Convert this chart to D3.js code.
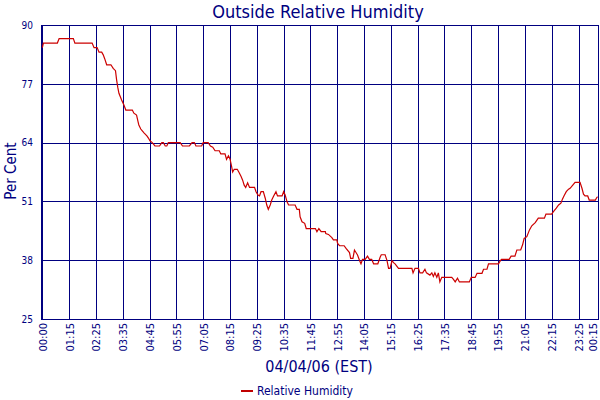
<!DOCTYPE html>
<html>
<head>
<meta charset="utf-8">
<script src="https://cdn.jsdelivr.net/npm/d3@7"></script>
<style>
  body { margin: 0; background: #fff; }
  svg text { font-family: "DejaVu Sans Condensed", "DejaVu Sans", sans-serif; font-stretch: condensed; fill: #000080; }
</style>
</head>
<body>
<div id="chart"></div>
<script>
// readings, 04/04/06 (EST); hours past 24 are the next day
var times = ["00:00","00:03","00:42","00:47","01:26","01:30","02:15","02:20","02:28","02:33",
  "02:40","02:44","02:48","02:53","03:04","03:10","03:16","03:19","03:22","03:25",
  "03:32","03:38","03:43","04:00","04:04","04:11","04:15","04:17","04:22","04:26",
  "04:31","04:38","04:42","04:46","04:52","04:59","05:11","05:17","05:21","05:26",
  "05:30","05:34","06:05","06:11","06:29","06:36","06:42","06:46","07:01","07:05",
  "07:18","07:24","07:30","07:36","07:47","07:51","08:02","08:06","08:11","08:15",
  "08:19","08:22","08:26","08:34","08:39","08:44","08:48","08:52","08:56","09:01",
  "09:06","09:19","09:23","09:28","09:32","09:36","09:42","09:47","09:51","09:55",
  "10:00","10:04","10:09","10:15","10:19","10:31","10:35","10:39","10:44","10:48",
  "11:05","11:10","11:16","11:18","11:23","11:30","11:34","11:58","12:02","12:07",
  "12:13","12:24","12:25","12:32","12:41","12:45","12:54","12:56","13:01","13:13",
  "13:18","13:27","13:30","13:36","13:40","13:48","13:53","13:57","14:01","14:08",
  "14:14","14:19","14:25","14:30","14:41","14:47","14:50","15:00","15:05","15:09",
  "15:13","15:18","15:22","15:26","15:35","16:10","16:13","16:18","16:27","16:31",
  "16:38","16:44","16:48","16:57","17:02","17:06","17:10","17:15","17:19","17:23",
  "17:28","17:54","17:58","18:03","18:09","18:14","18:40","18:45","18:55","19:00",
  "19:13","19:17","19:26","19:30","19:56","20:01","20:04","20:24","20:29","20:39",
  "20:44","20:54","20:59","21:03","21:10","21:17","21:23","21:32","21:40","21:56",
  "22:00","22:15","22:19","22:27","22:33","22:39","22:43","22:47","22:53","22:59",
  "23:03","23:10","23:16","23:29","23:34","23:38","23:42","23:49","23:53","24:09",
  "24:13","24:15"];

var humidity = [85,86,86,87,87,86,86,85,85,84,
  84,83.4,82.5,81.2,81.2,80.4,79.9,77.8,76.2,74.9,
  73.4,72.3,71.2,71.2,70.5,70.1,68.6,67.9,67,66.6,
  66.1,65.5,65,64.4,64,63.25,63.25,64,64,63.25,
  63.25,64,64,63.25,63.25,64,64,63.25,63.25,64,
  64,63.25,63,62.2,62.2,61.5,61.5,60.3,61.1,60.4,
  58.8,57.5,58.1,58.1,57.35,56.5,55.7,54.6,54.1,55.1,
  54.1,54.1,53.15,52.4,52.2,53.15,53.15,51.7,50.2,49.25,
  50.2,51.3,52.2,53.15,52.2,52.2,53.15,52.4,50.9,50.2,
  50.2,49.25,49.25,47.6,46.5,46.15,45,45,44.3,45,
  44.3,44.3,43.9,43.7,43,42.5,42.5,41.7,41.2,41.2,
  40.6,39.7,38.4,38.4,40.25,39.15,38,37.2,38.2,38.2,
  38.9,38.2,38.2,37.2,37.2,38.65,39.2,39.2,37.9,36.2,
  36.2,37.9,37.45,37.2,36.2,36.2,35.2,36.2,36.2,35.2,
  35.2,36,35.2,34.7,35.2,34.4,35.2,34.2,35.2,33.2,
  34.2,34.2,33.8,33.2,34,33.2,33.2,34.2,34.2,35.1,
  35.1,36,36,37.2,37.2,37.9,38.2,38.2,38.9,38.9,
  40.25,40.25,41.4,42.8,43.2,44.7,45.6,46.3,47.3,47.3,
  48.2,48.2,48.7,49.5,50.2,50.6,51.5,52.2,53.15,53.7,
  53.9,54.6,55.2,55.2,53.9,52.6,52.2,52.2,51.3,51.3,
  51.9,52];

var tickTimes = ["00:00","01:15","02:25","03:35","04:45","05:55","07:05","08:15","09:25","10:35",
  "11:45","12:55","14:05","15:15","16:25","17:35","18:45","19:55","21:05","22:15",
  "23:25","24:15"];
var yTicks = [25, 38, 51, 64, 77, 90];

var svgWidth = 600;
var svgHeight = 400;
var plot = { left: 41, right: 599, top: 25, bottom: 319 };

function toMinutes(t) {
  var p = t.split(":");
  return (+p[0]) * 60 + (+p[1]);
}

function tickLabel(t) {
  var m = toMinutes(t) % 1440;
  return d3.format("02")(Math.floor(m / 60)) + ":" + d3.format("02")(m % 60);
}

var data = times.map(function(t, i) {
  return { minute: toMinutes(t), value: humidity[i] };
});

var svg = d3.select("#chart")
  .append("svg")
  .attr("width", svgWidth)
  .attr("height", svgHeight);

svg.append("rect")
  .attr("width", svgWidth)
  .attr("height", svgHeight)
  .attr("fill", "#fff");

// the logger plots by sample number: 5 minute samples, one missing in the first hour
var pad = 0.7;
var sampleW = (plot.right - plot.left) / (290 + 2 * pad);
var xScale = d3.scaleLinear()
  .domain([0, 75, 1455])
  .range([0, 14, 290].map(function(i) { return plot.left + (i + pad) * sampleW; }));

var yScale = d3.scaleLinear()
  .domain([25, 90])
  .range([plot.bottom, plot.top]);

// grid
var grid = svg.append("g")
  .attr("stroke", "#000080")
  .attr("stroke-width", 1)
  .attr("shape-rendering", "crispEdges");

grid.selectAll(".vline")
  .data(tickTimes)
  .enter()
  .append("line")
  .attr("x1", function(d) { return Math.round(xScale(toMinutes(d))) + 0.5; })
  .attr("x2", function(d) { return Math.round(xScale(toMinutes(d))) + 0.5; })
  .attr("y1", plot.top)
  .attr("y2", plot.bottom);

grid.selectAll(".hline")
  .data(yTicks)
  .enter()
  .append("line")
  .attr("x1", plot.left)
  .attr("x2", plot.right)
  .attr("y1", function(d) { return Math.round(yScale(d)) + 0.5; })
  .attr("y2", function(d) { return Math.round(yScale(d)) + 0.5; });

grid.append("rect")
  .attr("x", plot.left + 0.5)
  .attr("y", plot.top + 0.5)
  .attr("width", plot.right - plot.left - 1)
  .attr("height", plot.bottom - plot.top)
  .attr("fill", "none");

// y axis labels
var leftAxis = d3.axisLeft(yScale)
  .tickValues(yTicks)
  .tickSize(0)
  .tickPadding(8);

svg.append("g")
  .attr("transform", "translate(" + plot.left + ",0)")
  .call(leftAxis)
  .call(function(g) { g.select(".domain").remove(); })
  .selectAll("text")
  .attr("font-size", 10)
  .attr("font-family", null)
  .attr("fill", "#000080");

// x axis labels, rotated
var bottomAxis = d3.axisBottom(xScale)
  .tickValues(tickTimes.map(toMinutes))
  .tickSize(0)
  .tickFormat(function(d, i) { return tickLabel(tickTimes[i]); });

svg.append("g")
  .attr("transform", "translate(0," + plot.bottom + ")")
  .call(bottomAxis)
  .call(function(g) { g.select(".domain").remove(); })
  .selectAll("text")
  .attr("font-size", 11)
  .attr("font-family", null)
  .attr("fill", "#000080")
  .attr("transform", "rotate(-90)")
  .attr("text-anchor", "end")
  .attr("x", -4)
  .attr("y", function(d, i) { return i === tickTimes.length - 1 ? -5 : 0; })  // last one kept inside the frame
  .attr("dy", "0.35em");

// humidity line
var line = d3.line()
  .x(function(d) { return xScale(d.minute); })
  .y(function(d) { return yScale(d.value); });

svg.append("path")
  .datum(data)
  .attr("d", line)
  .attr("fill", "none")
  .attr("stroke", "#cc0000")
  .attr("stroke-width", 1.2);

// titles
svg.append("text")
  .attr("x", 318)
  .attr("y", 18)
  .attr("text-anchor", "middle")
  .attr("font-size", 18)
  .text("Outside Relative Humidity");

svg.append("text")
  .attr("transform", "rotate(-90)")
  .attr("x", -171)
  .attr("y", 16)
  .attr("text-anchor", "middle")
  .attr("font-size", 15)
  .text("Per Cent");

svg.append("text")
  .attr("x", 319)
  .attr("y", 372)
  .attr("text-anchor", "middle")
  .attr("font-size", 16)
  .text("04/04/06 (EST)");

// legend
var legend = svg.append("g")
  .attr("transform", "translate(241,391)");

legend.append("line")
  .attr("x1", 0)
  .attr("x2", 12)
  .attr("y1", 0)
  .attr("y2", 0)
  .attr("stroke", "#c00000")
  .attr("stroke-width", 2);

legend.append("text")
  .attr("x", 16)
  .attr("y", 4)
  .attr("font-size", 12)
  .text("Relative Humidity");
</script>
</body>
</html>
